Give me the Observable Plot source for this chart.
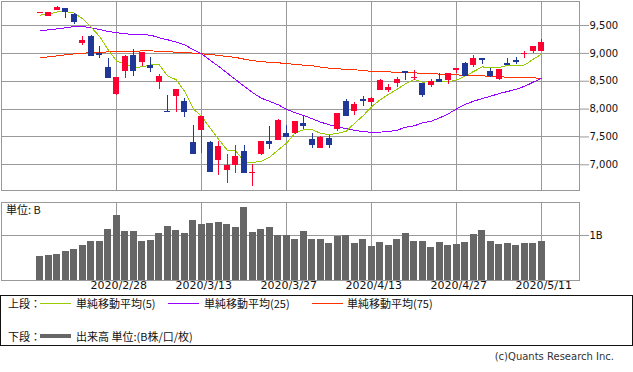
<!DOCTYPE html>
<html><head><meta charset="utf-8">
<script src="https://cdn.jsdelivr.net/npm/d3@7"></script>
<script src="https://cdn.jsdelivr.net/npm/@observablehq/plot@0.6"></script>
<style>
body{margin:0;background:#fff;}
#wrap{position:relative;width:633px;height:372px;overflow:hidden;font-family:"DejaVu Sans",sans-serif;color:#111;}
#wrap svg{position:absolute;left:0;overflow:visible;}
.t{position:absolute;font-family:"Noto Sans CJK JP",sans-serif;font-size:11px;line-height:12px;white-space:nowrap;color:#111;}
.ln{position:absolute;height:1px;}
#legend{position:absolute;left:0;top:295px;width:631px;height:49px;border:1px solid #111;}
</style></head><body><div id="wrap"><div id="legend"></div></div>
<script>
const dates = ["2020/2/14","2020/2/18","2020/2/19","2020/2/20","2020/2/21","2020/2/24","2020/2/25","2020/2/26","2020/2/27","2020/2/28",
"2020/3/2","2020/3/3","2020/3/4","2020/3/5","2020/3/6","2020/3/9","2020/3/10","2020/3/11","2020/3/12","2020/3/13",
"2020/3/16","2020/3/17","2020/3/18","2020/3/19","2020/3/20","2020/3/23","2020/3/24","2020/3/25","2020/3/26","2020/3/27",
"2020/3/30","2020/3/31","2020/4/1","2020/4/2","2020/4/3","2020/4/6","2020/4/7","2020/4/8","2020/4/9","2020/4/13",
"2020/4/14","2020/4/15","2020/4/16","2020/4/17","2020/4/20","2020/4/21","2020/4/22","2020/4/23","2020/4/24","2020/4/27",
"2020/4/28","2020/4/29","2020/4/30","2020/5/1","2020/5/4","2020/5/5","2020/5/6","2020/5/7","2020/5/8","2020/5/11"];
const open = [9722,9667,9777,9800,9705,9180,9300,9005,8750,8260, 8667,8955,8830,8790,8470,7960,8220,8130,7400,7610,
7400,7070,6890,6980,7240,6840,7190,7410,7445,7555, 7565,7740,7455,7300,7470,7640,8140,7965,8175,8125,
8340,8325,8460,8675,8540,8460,8425,8530,8515,8690, 8815,8790,8908,8675,8535,8822,8878,8983,9035,9040];
const high = [9736,9736,9838,9808,9710,9310,9320,9130,8900,8575, 8962,9070,9018,8930,8620,8240,8350,8185,7700,7875,
7420,7410,7190,7340,7350,7000,7420,7680,7815,7710, 7780,7880,7560,7510,7530,7925,8165,8120,8230,8200,
8535,8445,8565,8680,8690,8465,8530,8640,8640,8732, 8835,8960,8910,8730,8712,8905,8925,9035,9125,9250];
const low = [9712,9665,9775,9633,9523,9150,8940,8910,8550,8248, 8540,8590,8760,8665,8360,7930,7930,7845,7180,7204,
6870,6810,6670,6850,6860,6617,7170,7280,7440,7495, 7540,7630,7285,7298,7285,7605,7870,7890,8050,8050,
8330,8305,8385,8515,8515,8200,8395,8475,8450,8635, 8600,8750,8800,8570,8520,8790,8805,8915,9000,9035];
const close = [9731,9732,9817,9751,9577,9225,8966,8981,8566,8567, 8952,8684,9018,8738,8576,7951,8344,7952,7202,7875,
6885,7335,6989,7150,6865,6860,7418,7384,7798,7502, 7774,7700,7360,7487,7373,7913,7887,8090,8154,8192,
8515,8393,8532,8660,8561,8263,8495,8495,8635,8730, 8607,8915,8890,8605,8710,8809,8854,8995,9121,9192];
const ma5 = [9687,9708,9744,9749,9722,9620,9466,9299,9062,8860, 8806,8750,8757,8792,8794,8593,8525,8312,8005,7865,
7656,7454,7261,7251,7052,7043,7060,7139,7268,7393, 7575,7632,7627,7565,7539,7567,7604,7750,7884,8047,
8168,8269,8357,8457,8530,8480,8500,8493,8490,8524, 8593,8677,8756,8750,8746,8786,8774,8792,8895,8991];
const ma25 = [9404,9422,9440,9458,9482,9482,9458,9428,9392,9369, 9351,9339,9335,9326,9279,9243,9201,9154,9064,8992,
8872,8764,8644,8526,8406,8292,8196,8137,8077,7993, 7934,7885,7826,7765,7718,7676,7648,7616,7598,7580,
7587,7598,7622,7676,7700,7754,7783,7843,7915,8005, 8088,8142,8190,8232,8280,8316,8357,8411,8483,8555];
const ma75 = [8920,8938,8956,8974,8992,9004,9010,9016,9028,9028, 9028,9034,9046,9046,9034,9028,9022,9016,9004,8992,
8980,8962,8944,8926,8896,8867,8854,8836,8830,8818, 8800,8788,8777,8752,8734,8723,8711,8705,8693,8675,
8669,8669,8657,8657,8651,8639,8639,8627,8627,8617, 8598,8598,8598,8585,8579,8573,8567,8567,8561,8549];
const volume = [0.53,0.56,0.58,0.64,0.69,0.78,0.87,0.87,1.13,1.44, 1.09,1.09,0.87,0.89,1.04,1.20,1.11,1.04,1.33,1.24,
1.27,1.29,1.24,1.18,1.62,1.07,1.13,1.18,1.00,1.00, 0.91,1.09,0.91,0.91,0.82,0.98,1.00,0.82,0.91,0.76,
0.84,0.78,0.91,1.04,0.87,0.87,0.73,0.84,0.78,0.80, 0.84,1.02,1.11,0.87,0.80,0.82,0.78,0.82,0.82,0.87];
const tickLabels = ["2020/2/28","2020/3/13","2020/3/27","2020/4/13","2020/4/27","2020/5/11"];
const priceTicks = [7000,7500,8000,8500,9000,9500];
const volumeTicks = [1];
const legendItems = [
  {label:"単純移動平均(5)", color:"#99cc00", lx:40, tx:76},
  {label:"単純移動平均(25)", color:"#9900ff", lx:168, tx:204},
  {label:"単純移動平均(75)", color:"#ff3300", lx:312, tx:347}
];

const UP="#ff0033", DN="#1f3796", GRID="#999999";
const rows = dates.map((date,i)=>({i,date,o:open[i],h:high[i],l:low[i],c:close[i],m5:ma5[i],m25:ma25[i],m75:ma75[i],v:volume[i]}));
const tickIdx = tickLabels.map(t=>dates.indexOf(t));
const col = d => d.c >= d.o ? UP : DN;
const xDomain = [-4.565, 63.435];
const wrap = document.getElementById("wrap");

const main = Plot.plot({
  width:633, height:191, marginLeft:1, marginRight:54, marginTop:1, marginBottom:1,
  style:{fontFamily:"DejaVu Sans", fontSize:"10px", background:"transparent", overflow:"visible"},
  x:{domain:xDomain, axis:null, label:null},
  y:{domain:[6538.8, 9930.7], axis:null, label:null},
  marks:[
    Plot.gridY(priceTicks,{stroke:GRID, strokeOpacity:1, shapeRendering:"crispEdges"}),
    Plot.gridX(tickIdx,{stroke:GRID, strokeOpacity:1, shapeRendering:"crispEdges"}),
    Plot.frame({stroke:GRID, shapeRendering:"crispEdges"}),
    Plot.axisY(priceTicks,{anchor:"right", label:null, tickSize:9, tickPadding:1, tickFormat:d3.format(","), stroke:GRID, fill:"#111", fontSize:10}),
    Plot.line(rows,{x:"i", y:"m75", stroke:"#ff3300", strokeWidth:1, shapeRendering:"crispEdges"}),
    Plot.line(rows,{x:"i", y:"m25", stroke:"#9900ff", strokeWidth:1, shapeRendering:"crispEdges"}),
    Plot.line(rows,{x:"i", y:"m5", stroke:"#99cc00", strokeWidth:1, shapeRendering:"crispEdges"}),
    Plot.ruleX(rows,{x:"i", y1:"l", y2:"h", stroke:col, strokeWidth:1, shapeRendering:"crispEdges"}),
    Plot.rect(rows,{x1:d=>d.i-0.36, x2:d=>d.i+0.36, y1:"o", y2:"c", fill:col, shapeRendering:"crispEdges"}),
    Plot.ruleY(rows,{x1:d=>d.i-0.36, x2:d=>d.i+0.36, y:"c", stroke:col, shapeRendering:"crispEdges"})
  ]
});
main.style.top = "0px";
wrap.appendChild(main);

const vol = Plot.plot({
  width:633, height:100, marginLeft:1, marginRight:54, marginTop:7, marginBottom:15,
  style:{fontFamily:"DejaVu Sans", fontSize:"10px", background:"transparent", overflow:"visible"},
  x:{domain:xDomain, axis:null, label:null},
  y:{domain:[0, 1.733], axis:null, label:null},
  marks:[
    Plot.gridY(volumeTicks,{stroke:GRID, strokeOpacity:1, shapeRendering:"crispEdges"}),
    Plot.gridX(tickIdx,{stroke:GRID, strokeOpacity:1, shapeRendering:"crispEdges"}),
    Plot.frame({stroke:GRID, shapeRendering:"crispEdges"}),
    Plot.rect(rows,{x1:d=>d.i-0.39, x2:d=>d.i+0.39, y1:()=>0, y2:"v", fill:"#666666", shapeRendering:"crispEdges"}),
    Plot.axisY(volumeTicks,{anchor:"right", label:null, tickSize:9, tickPadding:1, tickFormat:d=>d+"B", stroke:GRID, fill:"#111", fontSize:10}),
    Plot.axisX(tickIdx,{anchor:"bottom", label:null, tickSize:0, tickPadding:1, tickFormat:i=>dates[i], fill:"#111", fontSize:11, dx:2})
  ]
});
vol.style.top = "195px";
wrap.appendChild(vol);

function addText(txt, left, top, extra){
  const s = document.createElement("div");
  s.className = "t"; s.textContent = txt;
  s.style.left = left+"px"; s.style.top = top+"px";
  if (extra) Object.assign(s.style, extra);
  wrap.appendChild(s);
  return s;
}
function addLine(left, top, width, color, h){
  const l = document.createElement("div");
  l.className = "ln";
  l.style.left = left+"px"; l.style.top = top+"px"; l.style.width = width+"px";
  l.style.background = color; l.style.height = (h||1)+"px";
  wrap.appendChild(l);
}
addText("単位: B", 6, 203);
addText("上段：", 8, 297);
legendItems.forEach(it=>{ addLine(it.lx, 303, 31, it.color, 1); addText(it.label, it.tx, 297); });
addText("下段：", 8, 330);
addLine(40, 334, 31, "#666666", 4);
addText("出来高 単位:(B株/口/枚)", 76, 330);
addText("(c)Quants Research Inc.", 0, 351, {left:"auto", right:"19px", fontFamily:"DejaVu Sans", fontSize:"10px", color:"#333"});
</script></body></html>
